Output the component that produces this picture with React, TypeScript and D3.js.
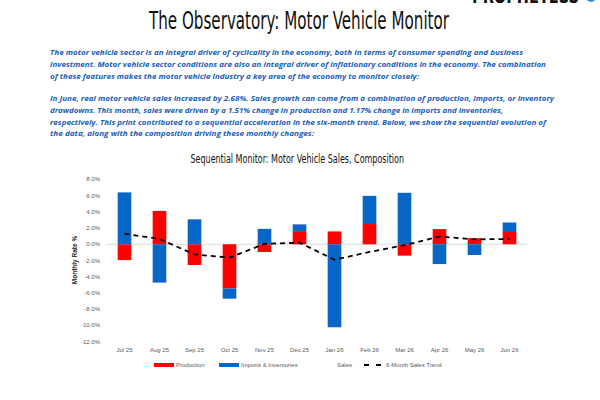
import React from "react";
import * as d3 from "d3";

const months = ["Jul 25","Aug 25","Sep 25","Oct 25","Nov 25","Dec 25","Jan 26","Feb 26","Mar 26","Apr 26","May 26","Jun 26"];
const production = [-1.95, 4.1, -2.55, -5.45, -0.95, 1.62, 1.58, 2.49, -1.4, 1.87, 0.75, 1.51];
const imports = [6.39, -4.72, 3.07, -1.25, 1.9, 0.83, -10.22, 3.47, 6.34, -2.44, -1.32, 1.17];
const trend = [1.3, 0.65, -1.25, -1.65, 0.05, 0.2, -1.9, -0.95, -0.12, 0.95, 0.6, 0.65];
const yTicks = [8, 6, 4, 2, 0, -2, -4, -6, -8, -10, -12];

const para1 = [
  { t: "The motor vehicle sector is an integral driver of cyclicality in the economy, both in terms of consumer spending and business", w: 473 },
  { t: "investment. Motor vehicle sector conditions are also an integral driver of inflationary conditions in the economy. The combination", w: 496 },
  { t: "of these features makes the motor vehicle industry a key area of the economy to monitor closely:", w: 369 },
];
const para2 = [
  { t: "In June, real motor vehicle sales increased by 2.68%. Sales growth can come from a combination of production, imports, or inventory", w: 504 },
  { t: "drawdowns. This month, sales were driven by a 1.51% change in production and 1.17% change in imports and inventories,", w: 453 },
  { t: "respectively. This print contributed to a sequential acceleration in the six-month trend. Below, we show the sequential evolution of", w: 496 },
  { t: "the data, along with the composition driving these monthly changes:", w: 264 },
];

const RED = "#ff0000";
const BLUE = "#0866c6";
const TXT = "#1a60b8";
const COND = "'Liberation Sans Narrow', 'DejaVu Sans Condensed', 'Arial Narrow', sans-serif";

export default function App() {
  const x = d3.scaleBand<string>().domain(months).range([107, 527]).paddingInner(0.61).paddingOuter(0.305);
  const y = d3.scaleLinear().domain([-12, 8]).range([341.7, 179.3]);

  const rows = months.map((m, i) => ({ m, production: production[i], imports: imports[i] }));
  const stack = d3.stack<any>().keys(["production", "imports"]).offset(d3.stackOffsetDiverging);
  const series = stack(rows);
  const colors: Record<string, string> = { production: RED, imports: BLUE };

  const line = d3.line<number>()
    .x((_, i) => (x(months[i]) as number) + x.bandwidth() / 2)
    .y((d) => y(d));

  return (
    <div style={{ position: "absolute", left: 0, top: 0 }}>
      <svg width={600} height={400} style={{ display: "block", background: "#fff" }}>
        {/* logo cut off at top */}
        <text x={472} y={2.5} fontFamily={COND} fontWeight={900} fontSize={20} fill="#111" textLength={107} lengthAdjust="spacingAndGlyphs">PROPHETESS</text>
        <circle cx={591} cy={-3} r={5} fill="#2a8ee0" />

        <text x={149} y={29} fontFamily={COND} fontSize={24} fill="#111" textLength={300} lengthAdjust="spacingAndGlyphs">The Observatory: Motor Vehicle Monitor</text>

        <g fontFamily="'Open Sans', sans-serif" fontStyle="italic" fontWeight={700} fontSize={7.8} fill={TXT}>
          {para1.map((l, i) => (
            <text key={"a" + i} x={50} y={54.5 + i * 12} textLength={l.w} lengthAdjust="spacingAndGlyphs">{l.t}</text>
          ))}
          {para2.map((l, i) => (
            <text key={"b" + i} x={50} y={101 + i * 11.8} textLength={l.w} lengthAdjust="spacingAndGlyphs">{l.t}</text>
          ))}
        </g>

        <text x={190.5} y={163} fontFamily={COND} fontSize={12} fill="#111" textLength={213.5} lengthAdjust="spacingAndGlyphs">Sequential Monitor: Motor Vehicle Sales, Composition</text>

        {/* y axis labels */}
        <g fontFamily="'Liberation Sans', Arial, sans-serif" fontSize={6} fill="#595959" textAnchor="end">
          {yTicks.map((t) => (
            <text key={t} x={100} y={y(t) + 2}>{t.toFixed(1) + "%"}</text>
          ))}
        </g>
        <text transform={`translate(77,260) rotate(-90)`} textAnchor="middle" fontFamily="'Liberation Sans', Arial, sans-serif" fontWeight={700} fontSize={6.5} fill="#222">Monthly Rate %</text>

        <line x1={107} x2={527} y1={y(0)} y2={y(0)} stroke="#d9d9d9" strokeWidth={1} />

        {series.map((s) => (
          <g key={s.key} fill={colors[s.key]}>
            {s.map((d, i) => (
              <rect key={i} x={x(months[i])} width={x.bandwidth()} y={y(Math.max(d[0], d[1]))} height={Math.abs(y(d[0]) - y(d[1]))} />
            ))}
          </g>
        ))}

        <path d={line(trend) || ""} fill="none" stroke="#000" strokeWidth={1.8} strokeDasharray="5,4" />

        <g fontFamily="'Liberation Sans', Arial, sans-serif" fontSize={6} fill="#595959" textAnchor="middle">
          {months.map((m) => (
            <text key={m} x={(x(m) as number) + x.bandwidth() / 2} y={352}>{m}</text>
          ))}
        </g>

        {/* legend */}
        <g fontFamily="'Liberation Sans', Arial, sans-serif" fontSize={6} fill="#595959">
          <rect x={154} y={363} width={20} height={4} fill={RED} />
          <text x={176} y={367.3}>Production</text>
          <rect x={219} y={363} width={20} height={4} fill={BLUE} />
          <text x={241} y={367.3}>Imports &amp; Inventories</text>
          <text x={337} y={367.3}>Sales</text>
          <line x1={364} x2={381} y1={365} y2={365} stroke="#000" strokeWidth={1.8} strokeDasharray="5,7" />
          <text x={386} y={367.3}>6-Month Sales Trend</text>
        </g>
      </svg>
    </div>
  );
}
